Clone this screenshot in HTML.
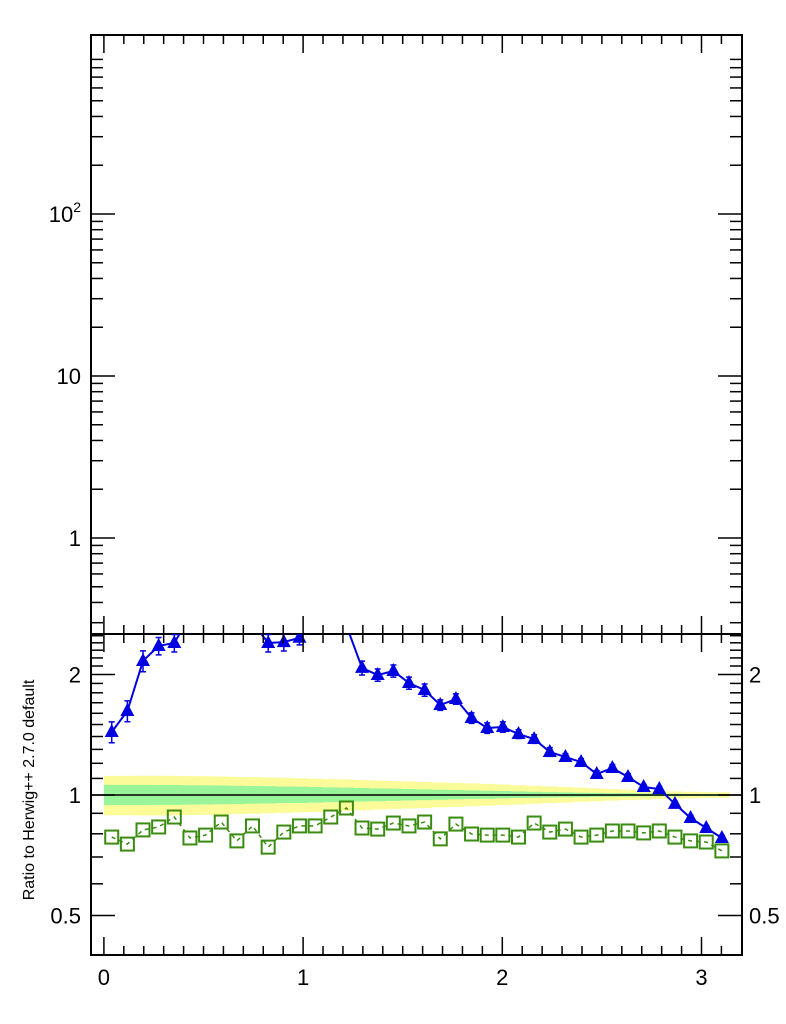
<!DOCTYPE html>
<html><head><meta charset="utf-8"><style>
body{margin:0;background:#fff;}
svg{display:block;font-family:"Liberation Sans",Arial,sans-serif;}
</style></head><body>
<svg id="chart" width="786" height="1024" viewBox="0 0 786 1024" xmlns="http://www.w3.org/2000/svg">
<defs><clipPath id="clipB"><rect x="91" y="634" width="651" height="321"/></clipPath></defs>
<rect x="91" y="35" width="651" height="599" fill="none" stroke="#000" stroke-width="2"/>
<rect x="91" y="634" width="651" height="321" fill="none" stroke="#000" stroke-width="2"/>
<g id="bands" clip-path="url(#clipB)"></g>
<line x1="91" x2="742" y1="795" y2="795" stroke="#000" stroke-width="1.5"/>
<g id="series" clip-path="url(#clipB)"></g>
<g id="axes"></g>
<text transform="translate(34,790) rotate(-90)" text-anchor="middle" font-size="16">Ratio to Herwig++ 2.7.0 default</text>
</svg>
<script>
const nBins = 40;
const blueRatio = [1.437,1.621,2.162,2.357,2.397,2.8,3.2,3.3,3.0,2.7,2.397,2.41,2.47,2.8,2.9,2.65,2.077,1.994,2.041,1.904,1.829,1.678,1.737,1.557,1.470,1.479,1.420,1.380,1.281,1.244,1.209,1.128,1.168,1.109,1.047,1.035,0.950,0.876,0.827,0.781];
const blueErr = [0.06,0.06,0.06,0.05,0.05,0.05,0.05,0.05,0.05,0.05,0.05,0.05,0.04,0.04,0.04,0.04,0.04,0.035,0.035,0.035,0.035,0.03,0.03,0.03,0.03,0.03,0.025,0.025,0.025,0.02,0.02,0.02,0.02,0.02,0.015,0.015,0.015,0.015,0.015,0.015];
const greenRatio = [0.785,0.754,0.818,0.832,0.881,0.781,0.794,0.856,0.768,0.837,0.741,0.808,0.837,0.837,0.881,0.928,0.827,0.822,0.851,0.837,0.856,0.777,0.846,0.799,0.794,0.794,0.785,0.851,0.808,0.822,0.785,0.794,0.813,0.813,0.804,0.813,0.785,0.768,0.763,0.725];
const yellowHi = [1.116,1.116,1.117,1.117,1.116,1.115,1.114,1.112,1.110,1.108,1.106,1.104,1.101,1.099,1.096,1.093,1.090,1.087,1.084,1.081,1.078,1.075,1.072,1.069,1.066,1.062,1.058,1.055,1.051,1.047,1.043,1.039,1.035,1.031,1.027,1.024,1.021,1.019,1.017,1.016];
const yellowLo = [0.890,0.890,0.889,0.889,0.890,0.891,0.892,0.894,0.896,0.898,0.900,0.902,0.905,0.907,0.910,0.913,0.916,0.919,0.922,0.925,0.928,0.931,0.934,0.937,0.940,0.944,0.947,0.951,0.954,0.958,0.962,0.965,0.968,0.971,0.974,0.977,0.979,0.981,0.983,0.984];
const greenHi = [1.060,1.060,1.060,1.059,1.059,1.058,1.057,1.056,1.055,1.053,1.052,1.050,1.049,1.047,1.045,1.043,1.041,1.039,1.037,1.035,1.033,1.031,1.029,1.027,1.025,1.023,1.021,1.019,1.017,1.015,1.013,1.012,1.011,1.010,1.009,1.008,1.007,1.006,1.006,1.005];
const greenLo = [0.944,0.944,0.944,0.945,0.945,0.946,0.947,0.948,0.949,0.951,0.952,0.954,0.955,0.957,0.959,0.961,0.963,0.965,0.967,0.969,0.971,0.973,0.975,0.977,0.979,0.981,0.983,0.984,0.986,0.987,0.988,0.989,0.990,0.991,0.992,0.993,0.993,0.994,0.994,0.995];
const xTickLabels = ["0","1","2","3"];
const ratioTickLabels = ["0.5","1","2"];
const topTickLabels = ["1","10","10²"];

const NS = "http://www.w3.org/2000/svg";
const X0 = 103.9, XS = 199.2;
function xs(v){ return X0 + XS*v; }
function yr(r){ return 795 - 120.5*Math.log2(r); }
function yt(v){ return 538 - 162*Math.log10(v); }
const binW = Math.PI/nBins;
function mk(parent, tag, attrs){ const e=document.createElementNS(NS,tag); for(const k in attrs) e.setAttribute(k,attrs[k]); parent.appendChild(e); return e; }

const bands=document.getElementById('bands');
function bandPath(hi,lo){
  let d="";
  for(let i=0;i<nBins;i++){ const a=xs(i*binW), b=xs((i+1)*binW); d+=(i?"L":"M")+a+","+yr(hi[i])+"L"+b+","+yr(hi[i]); }
  for(let i=nBins-1;i>=0;i--){ const a=xs(i*binW), b=xs((i+1)*binW); d+="L"+b+","+yr(lo[i])+"L"+a+","+yr(lo[i]); }
  return d+"Z";
}
const yb=mk(bands,'path',{d:bandPath(yellowHi,yellowLo),fill:'#fbfb9a'});


const gb=mk(bands,'path',{d:bandPath(greenHi,greenLo),fill:'#9af59a'});



const ser=document.getElementById('series');
let gp="";
greenRatio.forEach((r,i)=>{ gp+=(i?"L":"M")+xs((i+0.5)*binW)+","+yr(r); });
const gl=mk(ser,'path',{d:gp,fill:'none',stroke:'#3a8c10','stroke-width':1.5,'stroke-dasharray':'4,4'});


greenRatio.forEach((r,i)=>{
  const cx=xs((i+0.5)*binW), cy=yr(r);
  const s=mk(ser,'rect',{x:cx-6.5,y:cy-6.5,width:13,height:13,fill:'#fff','fill-opacity':0,stroke:'#3a8c10','stroke-width':2});
  
  
});
let bp="";
blueRatio.forEach((r,i)=>{ bp+=(i?"L":"M")+xs((i+0.5)*binW)+","+yr(r); });
const bl=mk(ser,'path',{d:bp,fill:'none',stroke:'#0000e0','stroke-width':2});


blueRatio.forEach((r,i)=>{
  const cx=xs((i+0.5)*binW), cy=yr(r), e=blueErr[i];
  const y1=yr(r*(1+e)), y2=yr(r*(1-e));
  const eb=mk(ser,'path',{d:`M${cx},${y1}L${cx},${y2}M${cx-3},${y1}L${cx+3},${y1}M${cx-3},${y2}L${cx+3},${y2}`,stroke:'#0000e0','stroke-width':1.5,fill:'none'});
  
  
  const t=mk(ser,'path',{d:`M${cx},${cy-8}L${cx+7},${cy+5}L${cx-7},${cy+5}Z`,fill:'#0000e0'});
  
  
});

const ax=document.getElementById('axes');
function ln(x1,y1,x2,y2){ mk(ax,'line',{x1,y1,x2,y2,stroke:'#000','stroke-width':1.5}); }
function txt(x,y,s,anchor,size){ const t=mk(ax,'text',{x,y,'text-anchor':anchor,'font-size':size}); t.textContent=s; return t; }
for(let k=0;k<=32;k++){
  const v=k/10, x=xs(v);
  if(x>741) break;
  const L = (k%10===0)?18:9;
  ln(x,955,x,955-L); ln(x,634,x,634+L); ln(x,634,x,634-L); ln(x,35,x,35+L);
}
xTickLabels.forEach((s,i)=>{ const t=txt(xs(i),985,s,'middle',22);   });
const rmin=[0.6,0.7,0.8,0.9,1.1,1.2,1.3,1.4,1.5,1.6,1.7,1.8,1.9,2.1,2.2,2.3,2.4,2.5];
rmin.forEach(r=>{ const y=yr(r); ln(91,y,103,y); ln(742,y,730,y); });
[0.5,1,2].forEach((r,i)=>{ const y=yr(r); ln(91,y,115,y); ln(742,y,718,y);
  const a=txt(81,y+8,ratioTickLabels[i],'end',22);  
  const b=txt(749,y+8,ratioTickLabels[i],'start',22);  
});
for(let d=0.1; d<=100; d*=10){
  for(let m=1;m<=9;m++){
    const v=d*m, y=yt(v);
    if(y<40||y>630) continue;
    const L=(m===1)?24:12;
    ln(91,y,91+L,y); ln(742,y,742-L,y);
  }
}
[1,10,100].forEach((v,i)=>{ const y=yt(v);
  let t;
  if(i<2){ t=txt(81,y+8,topTickLabels[i],'end',22); }
  else { t=mk(ax,'text',{x:81,y:y+8,'text-anchor':'end','font-size':22}); t.innerHTML='10<tspan dy="-10" font-size="14">2</tspan>'; }
  
  
});
</script>
</body></html>
